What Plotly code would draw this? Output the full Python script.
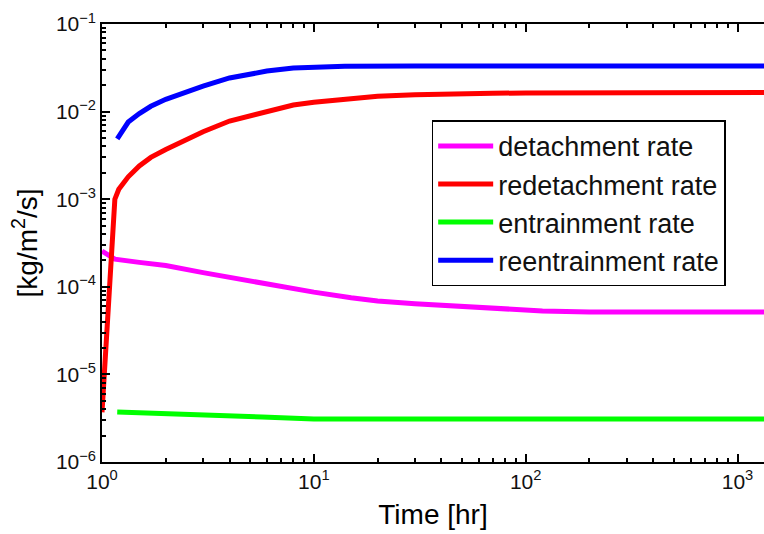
import plotly.graph_objects as go

# Data (log-log)
t_detach = [1, 1.15, 1.5, 2, 3, 4, 5, 7, 10, 15, 20, 30, 50, 80, 120, 200, 400, 1000, 1400]
detach = [2.56e-4, 2.07e-4, 1.9e-4, 1.75e-4, 1.45e-4, 1.28e-4, 1.15e-4, 1.0e-4, 8.7e-5,
          7.5e-5, 6.9e-5, 6.4e-5, 5.9e-5, 5.55e-5, 5.3e-5, 5.15e-5, 5.15e-5, 5.15e-5, 5.15e-5]

t_redetach = [1, 1.15, 1.2, 1.33, 1.5, 1.7, 2, 2.5, 3, 4, 5, 6, 8, 10, 14, 20, 30, 40,
              70, 100, 200, 1400]
redetach = [3.7e-6, 1.0e-3, 1.3e-3, 1.8e-3, 2.4e-3, 3.0e-3, 3.7e-3, 4.8e-3, 5.9e-3,
            7.8e-3, 9.0e-3, 1.0e-2, 1.19e-2, 1.28e-2, 1.4e-2, 1.5e-2, 1.56e-2, 1.59e-2,
            1.62e-2, 1.63e-2, 1.65e-2, 1.65e-2]

t_entrain = [1.18, 2, 5.7, 10, 100, 1400]
entrain = [3.73e-6, 3.6e-6, 3.27e-6, 3.1e-6, 3.1e-6, 3.1e-6]

t_reentrain = [1.18, 1.25, 1.33, 1.5, 1.7, 2, 2.5, 3, 4, 5, 6, 8, 10, 14, 30, 1400]
reentrain = [4.87e-3, 6.2e-3, 7.6e-3, 9.5e-3, 1.15e-2, 1.38e-2, 1.7e-2, 1.95e-2,
             2.42e-2, 2.7e-2, 2.9e-2, 3.15e-2, 3.25e-2, 3.3e-2, 3.32e-2, 3.32e-2]

x_tickvals = [1, 10, 100, 1000]
x_ticktext = ["10<sup>0</sup>", "10<sup>1</sup>", "10<sup>2</sup>", "10<sup>3</sup>"]
y_tickvals = [1e-6, 1e-5, 1e-4, 1e-3, 1e-2, 1e-1]
y_ticktext = ["10<sup>−6</sup>", "10<sup>−5</sup>", "10<sup>−4</sup>",
              "10<sup>−3</sup>", "10<sup>−2</sup>", "10<sup>−1</sup>"]

series = [
    ("detachment rate", t_detach, detach, "#FF00FF"),
    ("redetachment rate", t_redetach, redetach, "#FF0000"),
    ("entrainment rate", t_entrain, entrain, "#00FF00"),
    ("reentrainment rate", t_reentrain, reentrain, "#0000FF"),
]

fig = go.Figure()
for name, x, y, c in series:
    fig.add_trace(go.Scatter(x=x, y=y, mode="lines", name=name,
                             line=dict(color=c, width=5)))

font_family = "Liberation Sans, Arial, sans-serif"

fig.update_layout(
    width=764, height=534,
    margin=dict(l=102, r=0, t=24, b=72),
    paper_bgcolor="white", plot_bgcolor="white",
    font=dict(family=font_family, color="black"),
    showlegend=True,
    legend=dict(
        x=0.498, y=0.78, xanchor="left", yanchor="top",
        bgcolor="white", bordercolor="black", borderwidth=1.5,
        font=dict(size=27, family=font_family, color="#111"),
        tracegroupgap=0, itemwidth=55,
    ),
)

fig.update_xaxes(
    type="log", range=[0, 3.125], automargin=False,
    showgrid=False, zeroline=False,
    showline=True, linecolor="black", linewidth=1.5,
    mirror="ticks", ticks="inside", ticklen=8, tickcolor="black", tickwidth=1.5,
    tickvals=x_tickvals, ticktext=x_ticktext,
    tickfont=dict(size=21, family=font_family, color="#111"),
    minor=dict(ticks="inside", ticklen=4, tickcolor="black", showgrid=False,
               tickvals=[k * 10 ** e for e in range(0, 4) for k in range(2, 10)]),
    title=dict(text="Time [hr]", font=dict(size=28, family=font_family, color="black"), standoff=12),
)
fig.update_yaxes(
    type="log", range=[-6, -1], automargin=False,
    showgrid=False, zeroline=False,
    showline=True, linecolor="black", linewidth=1.5,
    mirror=False, ticks="inside", ticklen=8, tickcolor="black", tickwidth=1.5,
    tickvals=y_tickvals, ticktext=y_ticktext,
    tickfont=dict(size=21, family=font_family, color="#111"),
    minor=dict(ticks="inside", ticklen=4, tickcolor="black", showgrid=False,
               tickvals=[k * 10 ** e for e in range(-6, -1) for k in range(2, 10)]),
    title=dict(text="[kg/m<sup>2</sup>/s]", font=dict(size=28, family=font_family, color="black"), standoff=10),
)

fig.write_html(
    "out.html",
    config={"displayModeBar": False},
    post_script="document.body.style.margin='0';document.body.style.overflow='hidden';",
)
